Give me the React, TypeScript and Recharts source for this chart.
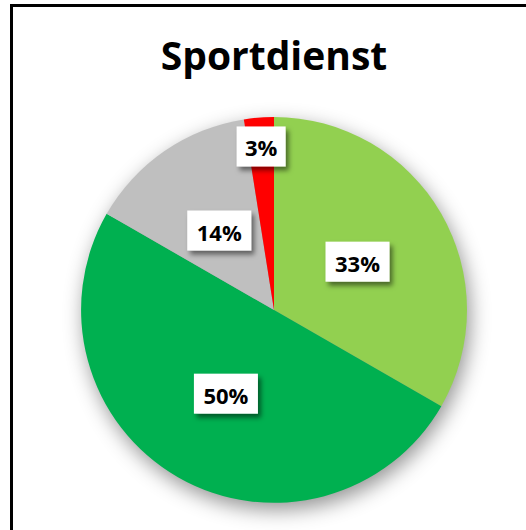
import React from 'react';
import { PieChart, Pie, Cell } from 'recharts';

const categories = ['Categorie A', 'Categorie B', 'Categorie C', 'Categorie D'];
const values = [33.3, 50.0, 14.2, 2.5];
const colors = ['#92D050', '#00B050', '#BFBFBF', '#FF0000'];
const title = 'Sportdienst';

const data = categories.map((name, i) => ({ name, value: values[i] }));
const total = values.reduce((a, b) => a + b, 0);
const shadowData = [{ name: 'shadow', value: total }];

const RAD = Math.PI / 180;
const FONT = '"Open Sans", "DejaVu Sans", sans-serif';

const renderLabel = (props: any) => {
  const { cx, cy, midAngle, outerRadius, percent } = props;
  const factor = percent < 0.05 ? 0.85 : 0.5;
  const r = outerRadius * factor;
  const x = cx + r * Math.cos(-midAngle * RAD);
  const y = cy + r * Math.sin(-midAngle * RAD);
  const text = `${Math.round(percent * 100)}%`;
  const w = text.length === 2 ? 49 : 64;
  const h = 40;
  return (
    <g>
      <rect x={x - w / 2} y={y - h / 2} width={w} height={h} fill="#ffffff" filter="url(#labelShadow)" />
      <text
        x={x}
        y={y + 1}
        textAnchor="middle"
        dominantBaseline="central"
        fontFamily={FONT}
        fontWeight={700}
        fontSize={22}
        fill="#000000"
      >
        {text}
      </text>
    </g>
  );
};

export default function App() {
  return (
    <div style={{ position: 'absolute', left: 0, top: 0, width: 526, height: 530, overflow: 'hidden', background: '#fff' }}>
      <div
        style={{
          position: 'absolute',
          left: 10,
          top: 4,
          width: 700,
          height: 700,
          border: '3px solid #000',
          boxSizing: 'border-box',
        }}
      />
      <div
        style={{
          position: 'absolute',
          left: 0,
          top: 31,
          width: 548,
          textAlign: 'center',
          fontFamily: FONT,
          fontWeight: 700,
          fontSize: 39,
          lineHeight: '48px',
          color: '#000',
          whiteSpace: 'nowrap',
        }}
      >
        {title}
      </div>
      <div style={{ position: 'absolute', left: 0, top: 0 }}>
        <PieChart width={526} height={530} margin={{ top: 0, right: 0, bottom: 0, left: 0 }}>
          <defs>
            <filter id="pieShadow" x="-30%" y="-30%" width="160%" height="160%">
              <feGaussianBlur in="SourceAlpha" stdDeviation="10" />
              <feOffset dx="3" dy="7" result="off" />
              <feFlood floodColor="#000" floodOpacity="0.42" />
              <feComposite in2="off" operator="in" />
            </filter>
            <filter id="labelShadow" x="-30%" y="-30%" width="170%" height="170%">
              <feDropShadow dx="3" dy="4" stdDeviation="2.5" floodColor="#000" floodOpacity="0.5" />
            </filter>
          </defs>
          <Pie
            data={shadowData}
            dataKey="value"
            cx={274}
            cy={310}
            outerRadius={193}
            startAngle={90}
            endAngle={-270}
            stroke="none"
            fill="#ffffff"
            filter="url(#pieShadow)"
            isAnimationActive={false}
            label={false}
            labelLine={false}
          />
          <Pie
            data={data}
            dataKey="value"
            nameKey="name"
            cx={274}
            cy={310}
            outerRadius={193}
            startAngle={90}
            endAngle={-270}
            stroke="none"
            isAnimationActive={false}
            label={renderLabel}
            labelLine={false}
          >
            {data.map((d, i) => (
              <Cell key={d.name} fill={colors[i]} />
            ))}
          </Pie>
        </PieChart>
      </div>
    </div>
  );
}
